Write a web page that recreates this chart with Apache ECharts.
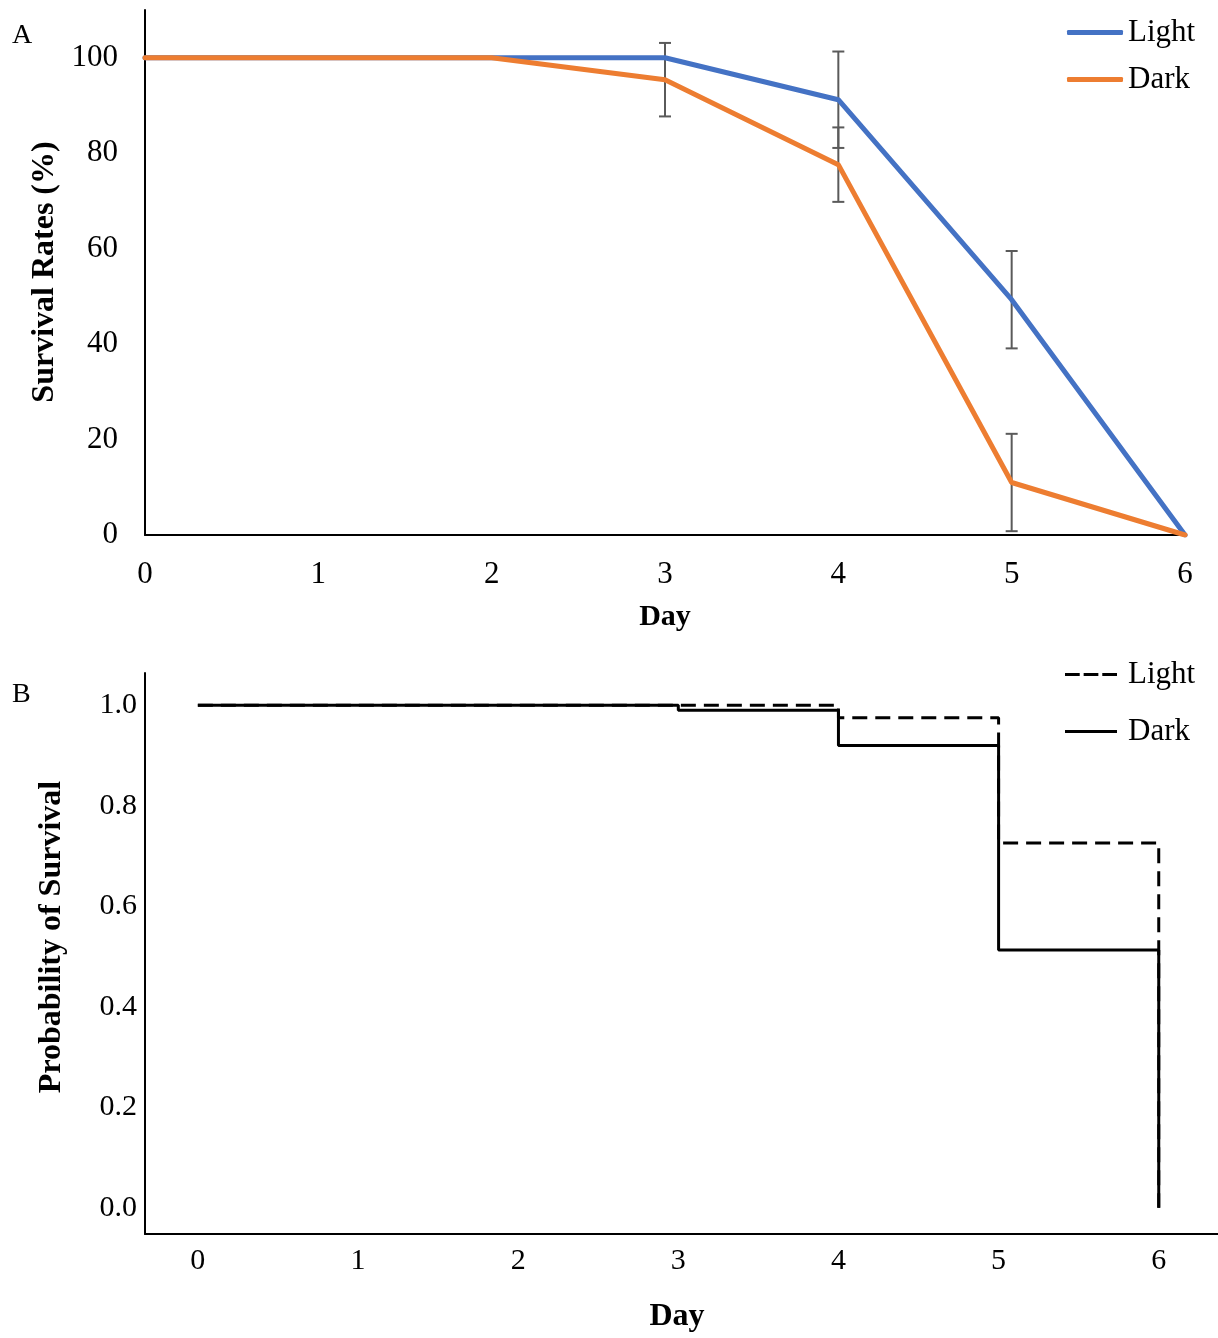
<!DOCTYPE html>
<html>
<head>
<meta charset="utf-8">
<script src="https://cdn.jsdelivr.net/npm/echarts@6/dist/echarts.min.js"></script>
<style>
  html, body { margin: 0; padding: 0; background: #fff; }
  #chart { width: 1218px; height: 1338px; }
</style>
</head>
<body>
<div id="chart"></div>
<script>
// panel A: mean survival rate (%) per day
const days = [0, 1, 2, 3, 4, 5, 6];
const lightRate = [100, 100, 100, 100, 91.2, 49.3, 0];
const darkRate = [100, 100, 100, 95.4, 77.6, 11.0, 0];
const lightErr = [0, 0, 0, 0, 10.1, 10.2, 0];
const darkErr = [0, 0, 0, 7.7, 7.8, 10.2, 0];

// panel B: Kaplan-Meier steps (day, probability)
const kmLightDays = [0, 4, 5, 6];
const kmLightProb = [1.0, 0.975, 0.726, 0];
const kmDarkDays = [0, 3, 4, 5, 6];
const kmDarkProb = [1.0, 0.99, 0.92, 0.513, 0];

const yTicksA = [0, 20, 40, 60, 80, 100];
const xTicksB = [0, 1, 2, 3, 4, 5, 6];
const yTicksB = [0, 0.2, 0.4, 0.6, 0.8, 1.0];

const font = "'Liberation Serif', 'Times New Roman', serif";
const BLUE = '#4472C4';
const ORANGE = '#ED7D31';
const DASH_ICON = 'path://M0,0H15V3H0Z M19,0H34V3H19Z M38,0H53V3H38Z';

const pairs = (xs, ys) => xs.map((d, i) => [d, ys[i]]);
const errRows = (vals, errs) =>
  days.filter((d, i) => errs[i] > 0).map((d) => {
    const i = days.indexOf(d);
    return [d, vals[i] - errs[i], vals[i] + errs[i]];
  });

const errorBar = (params, api) => {
  const x = api.value(0);
  const top = api.coord([x, api.value(2)]);
  const bot = api.coord([x, api.value(1)]);
  const cap = 6;
  const style = { stroke: '#5a5a5a', lineWidth: 2 };
  return {
    type: 'group',
    children: [
      { type: 'line', shape: { x1: top[0], y1: top[1], x2: bot[0], y2: bot[1] }, style },
      { type: 'line', shape: { x1: top[0] - cap, y1: top[1], x2: top[0] + cap, y2: top[1] }, style },
      { type: 'line', shape: { x1: bot[0] - cap, y1: bot[1], x2: bot[0] + cap, y2: bot[1] }, style },
    ],
  };
};

const chart = echarts.init(document.getElementById('chart'));

chart.setOption({
  backgroundColor: '#fff',
  animation: false,
  textStyle: { fontFamily: font, color: '#000' },
  grid: [
    { left: 145, right: 33, top: 10, height: 525 },
    { left: 145, right: 0, top: 673, height: 561 },
  ],
  legend: [
    {
      data: [
        { name: 'Light', icon: 'roundRect' },
        { name: 'Dark', icon: 'roundRect' },
      ],
      orient: 'vertical',
      left: 1062,
      top: 12,
      itemWidth: 56,
      itemHeight: 5,
      itemGap: 16,
      textStyle: { fontFamily: font, fontSize: 31, color: '#000', lineHeight: 30 },
    },
    {
      data: [
        { name: 'Light KM', icon: DASH_ICON },
        { name: 'Dark KM', icon: 'rect' },
      ],
      orient: 'vertical',
      left: 1060,
      top: 654,
      itemWidth: 52,
      itemHeight: 3,
      itemGap: 26,
      formatter: (name) => name.replace(' KM', ''),
      textStyle: { fontFamily: font, fontSize: 31, color: '#000', lineHeight: 30, padding: [0, 0, 0, 6] },
    },
  ],
  xAxis: [
    {
      gridIndex: 0,
      type: 'value',
      min: 0,
      max: 6,
      interval: 1,
      axisLine: { lineStyle: { color: '#000', width: 2 } },
      axisTick: { show: false },
      splitLine: { show: false },
      axisLabel: { fontFamily: font, fontSize: 31, color: '#000', margin: 24 },
    },
    {
      gridIndex: 1,
      type: 'value',
      min: -0.33,
      max: 6.37,
      axisLine: { onZero: false, lineStyle: { color: '#000', width: 2 } },
      axisTick: { show: false },
      splitLine: { show: false },
      axisLabel: {
        customValues: xTicksB,
        fontFamily: font,
        fontSize: 30,
        color: '#000',
        margin: 12,
      },
    },
  ],
  yAxis: [
    {
      gridIndex: 0,
      type: 'value',
      min: 0,
      max: 110,
      interval: 20,
      axisLine: { show: true, lineStyle: { color: '#000', width: 2 } },
      axisTick: { show: false },
      splitLine: { show: false },
      axisLabel: {
        customValues: yTicksA,
        fontFamily: font,
        fontSize: 31,
        color: '#000',
        margin: 27,
      },
    },
    {
      gridIndex: 1,
      type: 'value',
      min: -0.052,
      max: 1.064,
      axisLine: { show: true, onZero: false, lineStyle: { color: '#000', width: 2 } },
      axisTick: { show: false },
      splitLine: { show: false },
      axisLabel: {
        customValues: yTicksB,
        formatter: (v) => v.toFixed(1),
        fontFamily: font,
        fontSize: 30,
        color: '#000',
        margin: 8,
      },
    },
  ],
  series: [
    {
      name: 'Light err',
      type: 'custom',
      xAxisIndex: 0,
      yAxisIndex: 0,
      renderItem: errorBar,
      data: errRows(lightRate, lightErr),
      z: 1,
    },
    {
      name: 'Dark err',
      type: 'custom',
      xAxisIndex: 0,
      yAxisIndex: 0,
      renderItem: errorBar,
      data: errRows(darkRate, darkErr),
      z: 1,
    },
    {
      name: 'Light',
      type: 'line',
      xAxisIndex: 0,
      yAxisIndex: 0,
      data: pairs(days, lightRate),
      symbol: 'none',
      color: BLUE,
      lineStyle: { color: BLUE, width: 5, cap: 'round' },
      z: 3,
    },
    {
      name: 'Dark',
      type: 'line',
      xAxisIndex: 0,
      yAxisIndex: 0,
      data: pairs(days, darkRate),
      symbol: 'none',
      color: ORANGE,
      lineStyle: { color: ORANGE, width: 5, cap: 'round' },
      z: 4,
    },
    {
      name: 'Light KM',
      type: 'line',
      step: 'end',
      xAxisIndex: 1,
      yAxisIndex: 1,
      data: pairs(kmLightDays, kmLightProb),
      symbol: 'none',
      color: '#000',
      lineStyle: { color: '#000', width: 3, type: [15, 8] },
      z: 3,
    },
    {
      name: 'Dark KM',
      type: 'line',
      step: 'end',
      xAxisIndex: 1,
      yAxisIndex: 1,
      data: pairs(kmDarkDays, kmDarkProb),
      symbol: 'none',
      color: '#000',
      lineStyle: { color: '#000', width: 3 },
      z: 4,
    },
  ],
  graphic: [
    { type: 'text', left: 12, top: 22, style: { text: 'A', font: `28px ${font}`, fill: '#000' } },
    { type: 'text', left: 12, top: 681, style: { text: 'B', font: `28px ${font}`, fill: '#000' } },
    {
      type: 'text', x: 45, y: 272, rotation: Math.PI / 2,
      style: { text: 'Survival Rates (%)', font: `bold 32px ${font}`, fill: '#000', align: 'center', verticalAlign: 'middle' },
    },
    {
      type: 'text', x: 665, y: 617,
      style: { text: 'Day', font: `bold 30px ${font}`, fill: '#000', align: 'center', verticalAlign: 'middle' },
    },
    {
      type: 'text', x: 52, y: 937, rotation: Math.PI / 2,
      style: { text: 'Probability of Survival', font: `bold 32px ${font}`, fill: '#000', align: 'center', verticalAlign: 'middle' },
    },
    {
      type: 'text', x: 677, y: 1317,
      style: { text: 'Day', font: `bold 32px ${font}`, fill: '#000', align: 'center', verticalAlign: 'middle' },
    },
  ],
});
</script>
</body>
</html>
